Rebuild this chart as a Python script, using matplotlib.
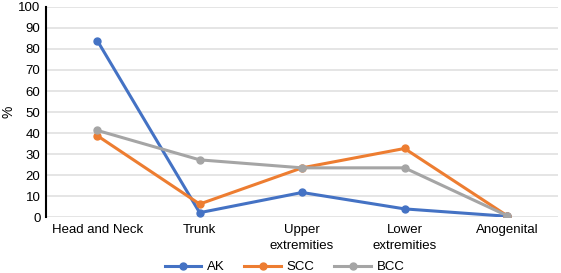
import matplotlib
matplotlib.use("Agg")
import matplotlib.pyplot as plt

categories = ["Head and Neck", "Trunk", "Upper\nextremities", "Lower\nextremities", "Anogenital"]
ak = [84, 2.2, 11.8, 4, 0.5]
scc = [38.8, 6.3, 23.5, 32.7, 0.8]
bcc = [41.3, 27.3, 23.5, 23.5, 0.8]
yticks = list(range(0, 101, 10))

plt.rcParams['font.family'] = ['Liberation Sans', 'DejaVu Sans']
fig = plt.figure(figsize=(5.61, 2.73), dpi=100)
ax = fig.add_axes([0.082, 0.204, 0.913, 0.771])
x = list(range(len(categories)))
for vals, c, lab in [(ak, '#4472C4', 'AK'), (scc, '#ED7D31', 'SCC'), (bcc, '#A5A5A5', 'BCC')]:
    ax.plot(x, vals, color=c, lw=2.2, marker='o', ms=5, label=lab)
ax.set_xlim(-0.5, len(categories) - 0.5)
ax.set_ylim(0, 100)
ax.set_yticks(yticks)
ax.set_xticks(x)
ax.set_xticklabels(categories, fontsize=9.5, linespacing=1.4)
ax.tick_params(axis='y', labelsize=9.5, length=0, pad=4)
ax.tick_params(axis='x', length=0, pad=5)
ax.grid(axis='y', color='#E0E0E0', lw=1.2)
ax.set_axisbelow(True)
for s in ['top', 'right', 'bottom']:
    ax.spines[s].set_visible(False)
ax.spines['left'].set_color('black')
ax.spines['left'].set_linewidth(1.5)
ax.set_ylabel('%', fontsize=10, labelpad=2)
fig.legend(loc='lower center', bbox_to_anchor=(0.507, -0.045), ncol=3, frameon=False, fontsize=9.5,
           handlelength=2.8, handletextpad=0.4, columnspacing=1.5)
fig.savefig('out.png', dpi=100)
